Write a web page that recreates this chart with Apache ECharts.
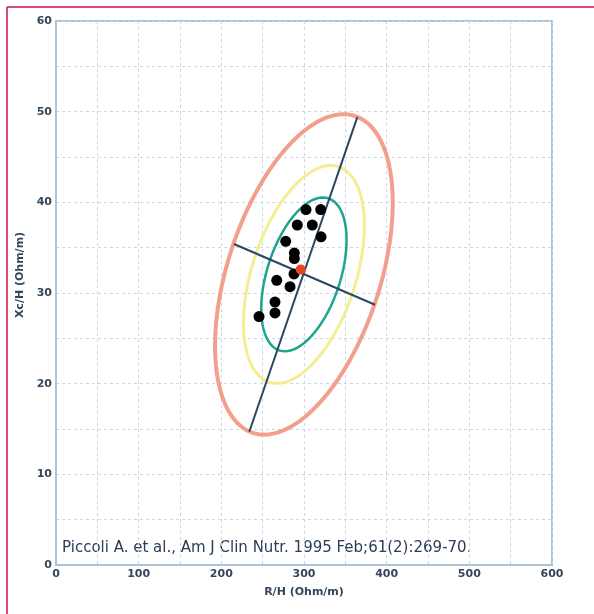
<!DOCTYPE html>
<html>
<head>
<meta charset="utf-8">
<script src="https://cdn.jsdelivr.net/npm/echarts@6/dist/echarts.min.js"></script>
<style>
html, body { margin: 0; padding: 0; background: #fff; }
#chart { width: 594px; height: 614px; }
</style>
</head>
<body>
<div id="chart"></div>
<script>
// axis ranges (R/H on x, Xc/H on y)
var xRange = [0, 600];
var yRange = [0, 60];

// individual vectors (R/H, Xc/H)
var subjects = [
  [302.4, 39.2], [320.2, 39.2], [291.9, 37.5], [310.0, 37.5], [320.6, 36.2],
  [277.9, 35.7], [288.3, 34.4], [288.3, 33.8], [287.9, 32.1], [267.0, 31.4],
  [283.1, 30.7], [264.9, 29.0], [264.9, 27.8], [245.6, 27.4]
];
// mean vector
var meanVector = [[296.0, 32.6]];

// principal axes of the 95% tolerance ellipse (end points)
var majorAxis = [[233.8, 14.7], [364.5, 49.4]];
var minorAxis = [[215.3, 35.4], [385.9, 28.7]];

// tolerance ellipses: 50%, 75%, 95% (size relative to the 95% one)
var ellipseNames = ['50%', '75%', '95%'];
var ellipseScales = [0.48, 0.68, 1.0];

var citation = 'Piccoli A. et al., Am J Clin Nutr. 1995 Feb;61(2):269-70.';

function ellipsePoints(scale) {
  var cx = (majorAxis[0][0] + majorAxis[1][0] + minorAxis[0][0] + minorAxis[1][0]) / 4;
  var cy = (majorAxis[0][1] + majorAxis[1][1] + minorAxis[0][1] + minorAxis[1][1]) / 4;
  var ax = (majorAxis[1][0] - majorAxis[0][0]) / 2, ay = (majorAxis[1][1] - majorAxis[0][1]) / 2;
  var bx = (minorAxis[1][0] - minorAxis[0][0]) / 2, by = (minorAxis[1][1] - minorAxis[0][1]) / 2;
  var pts = [];
  for (var i = 0; i <= 160; i++) {
    var t = i / 160 * Math.PI * 2;
    pts.push([cx + scale * (Math.cos(t) * ax + Math.sin(t) * bx),
              cy + scale * (Math.cos(t) * ay + Math.sin(t) * by)]);
  }
  return pts;
}

var chart = echarts.init(document.getElementById('chart'));

var gridLine = { show: true, lineStyle: { color: '#c3d9ec', type: [3, 3], width: 1 } };
var labelStyle = { color: '#34465a', fontSize: 11, fontWeight: 'bold', fontFamily: 'DejaVu Sans' };
var nameStyle = { color: '#34465a', fontSize: 11, fontWeight: 'bold', fontFamily: 'DejaVu Sans' };

chart.setOption({
  animation: false,
  backgroundColor: '#fff',
  grid: {
    left: 56, right: 42, top: 21, bottom: 49,
    show: true, borderColor: '#aac4da', borderWidth: 2
  },
  xAxis: {
    type: 'value', min: xRange[0], max: xRange[1], interval: 50,
    name: 'R/H (Ohm/m)', nameLocation: 'middle', nameGap: 22,
    nameTextStyle: nameStyle,
    axisLine: { show: true, lineStyle: { color: '#aac4da', width: 2 } },
    axisTick: { show: false },
    axisLabel: Object.assign({ margin: 4, formatter: function (v) { return v % 100 === 0 ? v : ''; } }, labelStyle),
    splitLine: gridLine
  },
  yAxis: {
    type: 'value', min: yRange[0], max: yRange[1], interval: 5,
    name: 'Xc/H (Ohm/m)', nameLocation: 'middle', nameGap: 28, nameRotate: 90,
    nameTextStyle: Object.assign({ padding: [0, 0, 0, 36] }, nameStyle),
    axisLine: { show: true, lineStyle: { color: '#aac4da', width: 2 } },
    axisTick: { show: false },
    axisLabel: Object.assign({ margin: 4, formatter: function (v) { return v % 10 === 0 ? v : ''; } }, labelStyle),
    splitLine: gridLine
  },
  graphic: [
    { type: 'line', shape: { x1: 7, y1: 7, x2: 594, y2: 7 }, style: { stroke: '#d4123f', lineWidth: 1.5 } },
    { type: 'line', shape: { x1: 7, y1: 7, x2: 7, y2: 614 }, style: { stroke: '#d4123f', lineWidth: 1.5 } },
    { type: 'text', left: 62, top: 541, style: { text: citation, fill: '#2c3b58', font: '15px "DejaVu Sans"' } }
  ],
  series: [
    { name: ellipseNames[2], type: 'line', data: ellipsePoints(ellipseScales[2]), showSymbol: false, smooth: false,
      lineStyle: { color: '#f2a08c', width: 4 }, z: 2 },
    { name: ellipseNames[1], type: 'line', data: ellipsePoints(ellipseScales[1]), showSymbol: false, smooth: false,
      lineStyle: { color: '#f4ee92', width: 3 }, z: 2 },
    { name: ellipseNames[0], type: 'line', data: ellipsePoints(ellipseScales[0]), showSymbol: false, smooth: false,
      lineStyle: { color: '#1fa58b', width: 2.5 }, z: 3 },
    { name: 'major', type: 'line', data: majorAxis, showSymbol: false,
      lineStyle: { color: '#2a4862', width: 2 }, z: 4 },
    { name: 'minor', type: 'line', data: minorAxis, showSymbol: false,
      lineStyle: { color: '#2a4862', width: 2 }, z: 4 },
    { name: 'subjects', type: 'scatter', data: subjects, symbolSize: 11,
      itemStyle: { color: '#000', opacity: 1 }, z: 5 },
    { name: 'mean', type: 'scatter', data: meanVector, symbolSize: 10,
      itemStyle: { color: '#e8451e', opacity: 1 }, z: 6 }
  ]
});
</script>
</body>
</html>
